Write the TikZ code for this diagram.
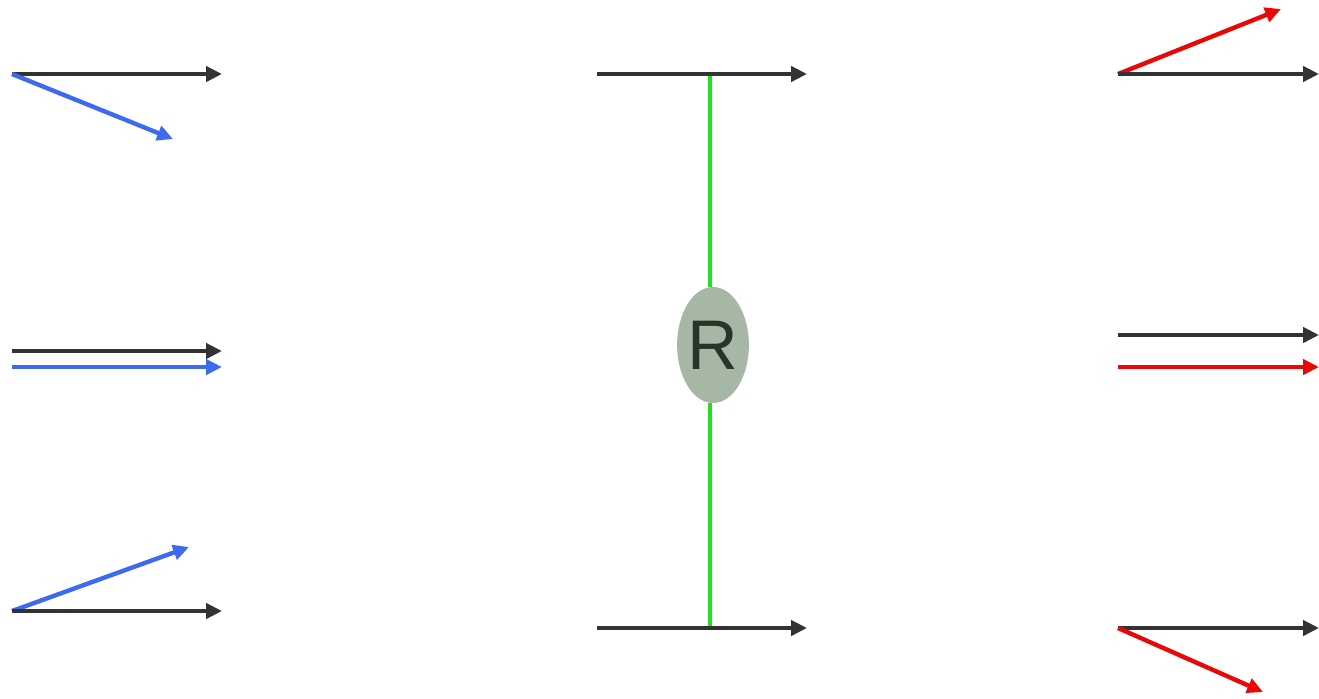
\documentclass[tikz,border=0pt]{standalone}
\usepackage{fontspec}
\setmainfont{Liberation Sans}
\usepackage{tikz}
\usetikzlibrary{arrows.meta,shapes.geometric}
\definecolor{darkline}{HTML}{333333}
\definecolor{blueacc}{HTML}{3D6AEE}
\definecolor{redacc}{HTML}{E80808}
\definecolor{greenlink}{HTML}{22E022}
\definecolor{grayfill}{HTML}{A7B7A5}
\definecolor{textdark}{HTML}{283428}
\tikzset{every node/.append style={font=\rmfamily}}

\begin{document}
\begin{tikzpicture}[>={Triangle[length=9pt,width=8.5pt]},x=0.02cm,y=-0.02cm,
    vec/.style={->,line width=2.5pt}]
  \useasboundingbox (0,0) rectangle (1319,698);
  % left column: black reference, blue test
  \coordinate (LAo) at (12,74);
  \coordinate (LAe) at (222,74);
  \coordinate (LAb) at (173,139);
  \draw[vec,darkline] (LAo)--(LAe);
  \draw[vec,blueacc] (LAo)--(LAb);
  \coordinate (LBo) at (12,351);
  \coordinate (LBe) at (222,351);
  \coordinate (LCo) at (12,367);
  \coordinate (LCe) at (222,367);
  \draw[vec,darkline] (LBo)--(LBe);
  \draw[vec,blueacc] (LCo)--(LCe);
  \coordinate (LDo) at (12,611);
  \coordinate (LDe) at (222,611);
  \coordinate (LDb) at (189,547);
  \draw[vec,blueacc] (LDo)--(LDb);
  \draw[vec,darkline] (LDo)--(LDe);
  % middle: two black vectors joined through R
  \coordinate (MTo) at (597,74);
  \coordinate (MTe) at (807,74);
  \coordinate (MBo) at (597,628);
  \coordinate (MBe) at (807,628);
  \coordinate (MTg) at (710,74);
  \coordinate (MBg) at (710,628);
  \node[ellipse,fill=grayfill,minimum width=1.4cm,minimum height=2.32cm,
    inner sep=0pt,text=textdark,font=\fontsize{40}{40}\selectfont] (R) at (713,345) {R};
  \draw[greenlink,line width=2.5pt] (MTg)--(MTg|-R.north);
  \draw[greenlink,line width=2.5pt] (MBg|-R.south)--(MBg);
  \draw[vec,darkline] (MTo)--(MTe);
  \draw[vec,darkline] (MBo)--(MBe);
  % right column: black reference, red test
  \coordinate (RAo) at (1118,74);
  \coordinate (RAe) at (1319,74);
  \coordinate (RAr) at (1281,9);
  \draw[vec,redacc] (RAo)--(RAr);
  \draw[vec,darkline] (RAo)--(RAe);
  \coordinate (RBo) at (1118,335);
  \coordinate (RBe) at (1319,335);
  \coordinate (RCo) at (1118,367);
  \coordinate (RCe) at (1319,367);
  \draw[vec,darkline] (RBo)--(RBe);
  \draw[vec,redacc] (RCo)--(RCe);
  \coordinate (RDo) at (1118,628);
  \coordinate (RDe) at (1319,628);
  \coordinate (RDr) at (1263,692);
  \draw[vec,darkline] (RDo)--(RDe);
  \draw[vec,redacc] (RDo)--(RDr);
\end{tikzpicture}
\end{document}
